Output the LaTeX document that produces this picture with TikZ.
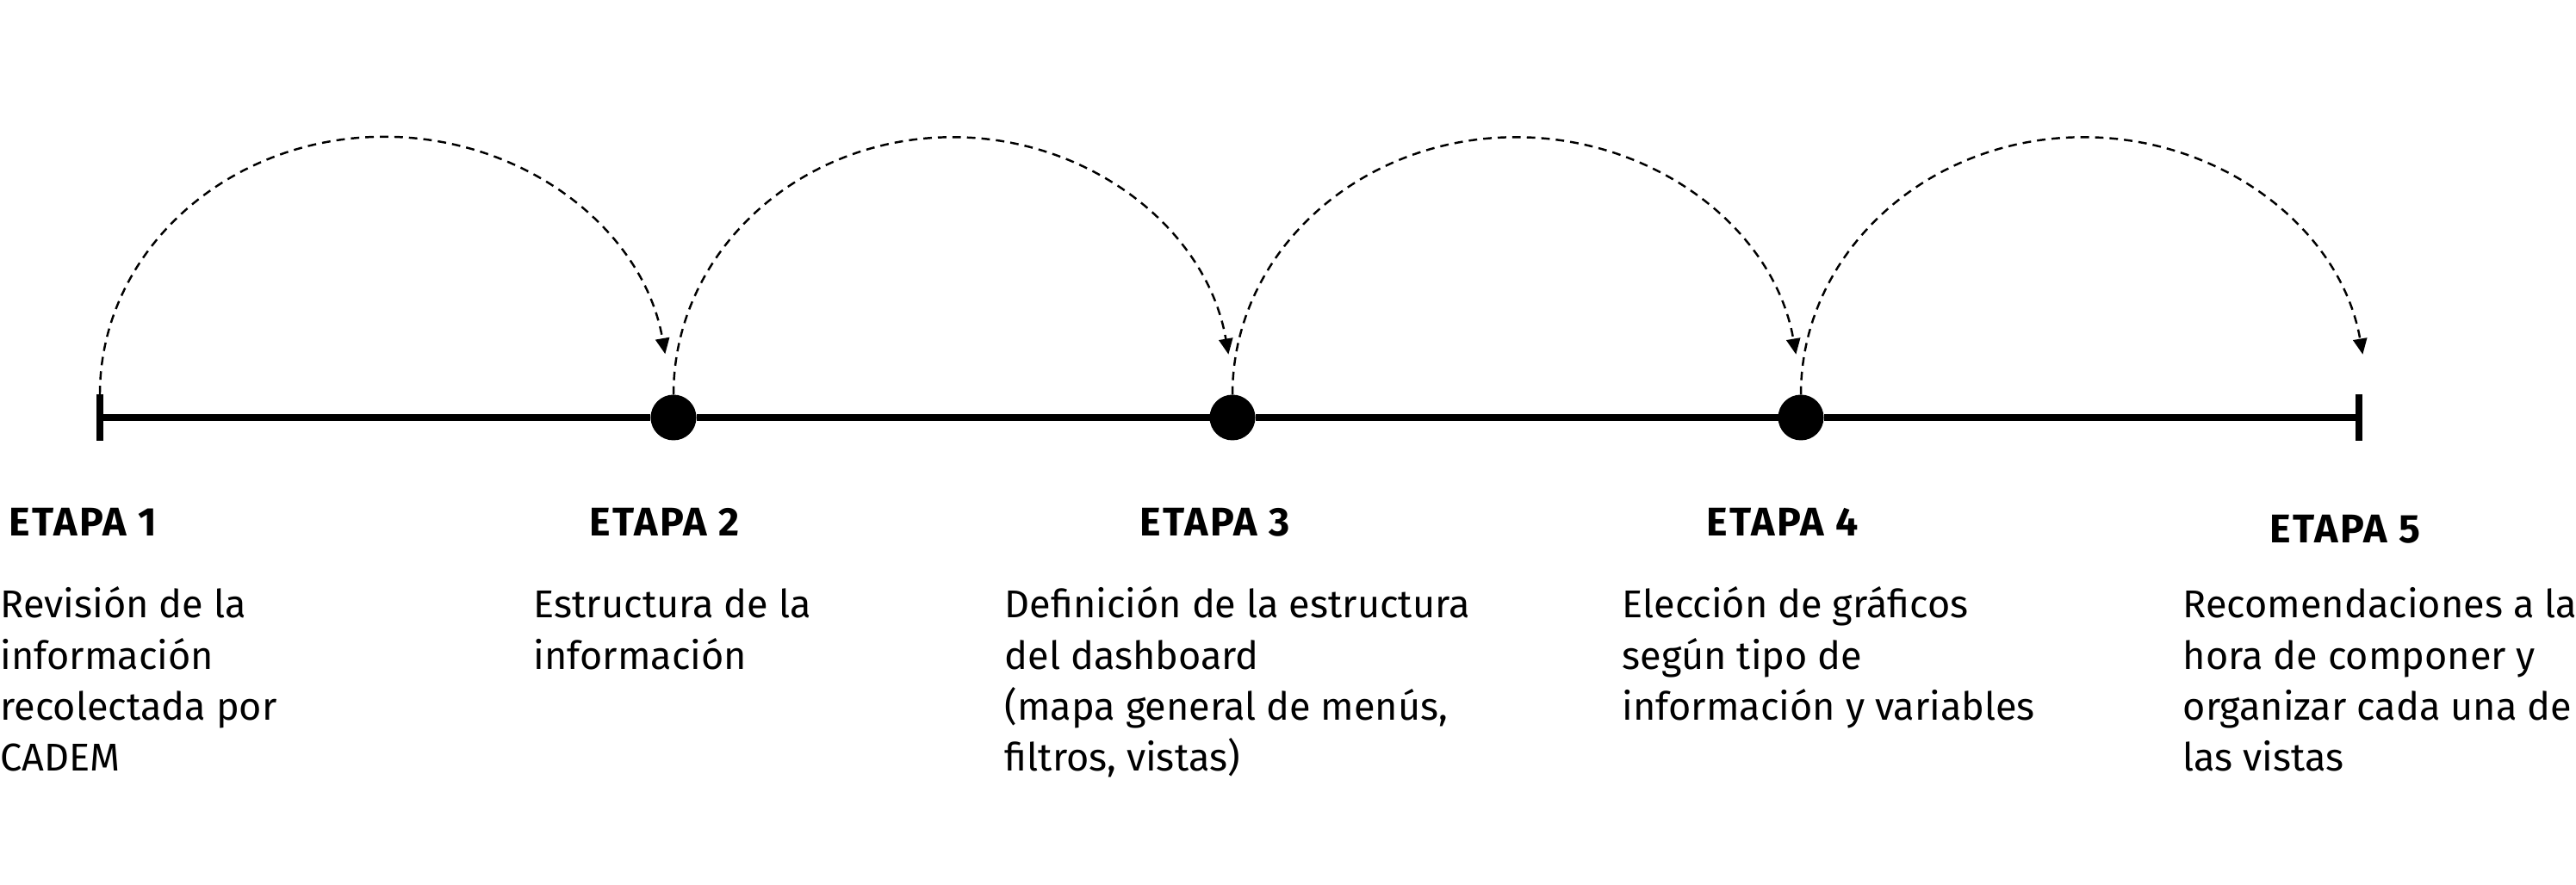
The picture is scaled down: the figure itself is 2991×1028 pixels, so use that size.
\documentclass[tikz,border=0pt]{standalone}
\usepackage{fontspec}
\setmainfont{Fira Sans}
\usetikzlibrary{arrows.meta}
\tikzset{
  mainline/.style={line width=0.075cm},
  tickline/.style={line width=0.08cm},
  dotnode/.style={circle, fill=black, minimum size=0.53cm, inner sep=0pt, outer sep=0pt},
  hop/.style={line width=0.7pt, dash pattern=on 2.8pt off 2pt, -{Triangle[length=5.2pt,width=4.6pt]}},
  stagetitle/.style={anchor=base west, inner sep=0pt, font=\fontsize{0.465cm}{0.55cm}\selectfont\bfseries\addfontfeatures{LetterSpace=5}},
  stagetext/.style={anchor=base west, inner sep=0pt, font=\fontsize{0.45cm}{0.59cm}\selectfont}
}
\newcommand{\stagepar}[1]{\parbox[t]{9cm}{\raggedright #1}}
\begin{document}
\begin{tikzpicture}[x=0.01cm,y=0.01cm]
\useasboundingbox (0,0) rectangle (2991,1028);
% timeline points
\coordinate (t1) at (116,543);
\coordinate (t5) at (2739,543);
\node[dotnode] (d2) at (782,543) {};
\node[dotnode] (d3) at (1431,543) {};
\node[dotnode] (d4) at (2091,543) {};
\coordinate (t1top) at (116,570);
\coordinate (t1bot) at (116,516);
\coordinate (t5top) at (2739,570);
\coordinate (t5bot) at (2739,516);
\draw[mainline] (t1) -- (d2) -- (d3) -- (d4) -- (t5);
\draw[tickline] (t1top) -- (t1bot);
\draw[tickline] (t5top) -- (t5bot);
% hops
\draw[hop] (t1top) arc[start angle=180, end angle=9, x radius=3.30cm, y radius=2.99cm];
\draw[hop] (d2.north) arc[start angle=180, end angle=9, x radius=3.24cm, y radius=2.99cm];
\draw[hop] (d3.north) arc[start angle=180, end angle=9, x radius=3.29cm, y radius=2.99cm];
\draw[hop] (d4.north) arc[start angle=180, end angle=9, x radius=3.28cm, y radius=2.99cm];
% titles
\node[stagetitle] (e1) at (10,405) {ETAPA 1};
\node[stagetitle] (e2) at (684,405) {ETAPA 2};
\node[stagetitle] (e3) at (1323,405) {ETAPA 3};
\node[stagetitle] (e4) at (1981,405) {ETAPA 4};
\node[stagetitle] (e5) at (2635,397) {ETAPA 5};
% texts
\node[stagetext] (x1) at (0,310) {\stagepar{Revisión de la\\información\\recolectada por\\CADEM}};
\node[stagetext] (x2) at (619,310) {\stagepar{Estructura de la\\información}};
\node[stagetext] (x3) at (1166,310) {\stagepar{Definición de la estructura\\del dashboard\\(mapa general de menús,\\filtros, vistas)}};
\node[stagetext] (x4) at (1883,310) {\stagepar{Elección de gráficos\\según tipo de\\información y variables}};
\node[stagetext] (x5) at (2534,310) {\stagepar{Recomendaciones a la\\hora de componer y\\organizar cada una de\\las vistas}};
\end{tikzpicture}
\end{document}
